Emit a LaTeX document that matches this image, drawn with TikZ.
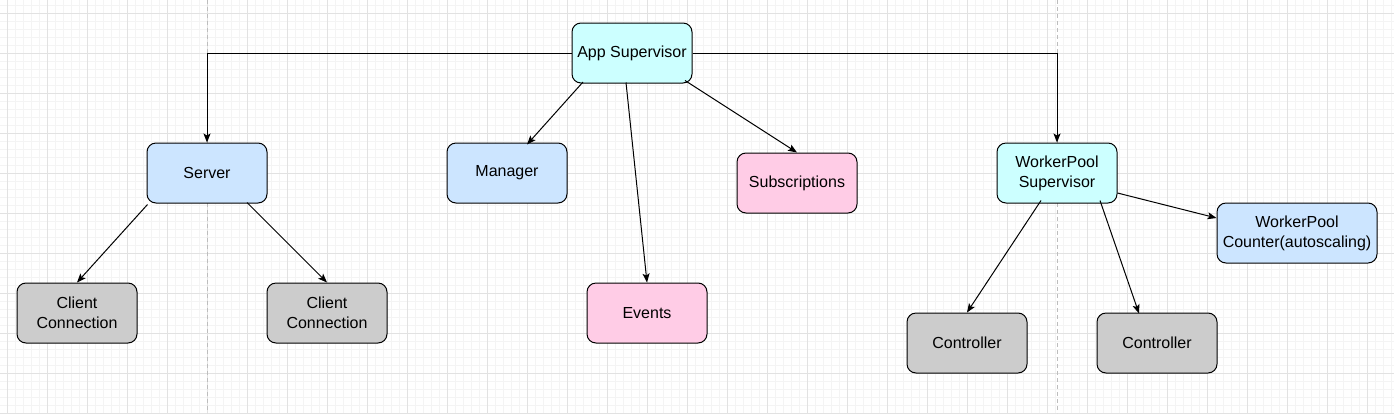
\documentclass[tikz,border=0pt]{standalone}
\usepackage{fontspec}
\setmainfont{Liberation Sans}
\usetikzlibrary{arrows.meta}
\definecolor{nblue}{HTML}{CCE5FF}
\definecolor{ncyan}{HTML}{CCFFFF}
\definecolor{npink}{HTML}{FFCCE6}
\definecolor{ngray}{HTML}{CCCCCC}
\definecolor{gminor}{HTML}{F4F4F4}
\definecolor{gmajor}{HTML}{E2E2E2}
\definecolor{gpage}{HTML}{BDBDBD}
\tikzset{
  box/.style={draw=black, line width=1pt, rounded corners=9pt, minimum width=120pt, minimum height=60pt, inner sep=0pt, align=center, font=\fontsize{16}{20}\selectfont},
  conn/.style={draw=black, line width=1pt, -{Stealth[length=9pt,width=7pt,inset=2pt]}},
}
\begin{document}
\begin{tikzpicture}[x=1pt,y=-1pt]
\useasboundingbox (0,0) rectangle (1394,413);
\fill[white] (0,0) rectangle (1394,413);
% grid
\foreach \i in {0,...,175} { \draw[gminor, line width=0.6pt] ({-1+8*\i},0) -- ({-1+8*\i},413); }
\foreach \i in {0,...,52} { \draw[gminor, line width=0.6pt] (0,{5+8*\i}) -- (1394,{5+8*\i}); }
\foreach \i in {0,...,34} { \draw[gmajor, line width=0.8pt] ({7+40*\i},0) -- ({7+40*\i},413); }
\foreach \i in {0,...,10} { \draw[gmajor, line width=0.8pt] (0,{13+40*\i}) -- (1394,{13+40*\i}); }
\draw[gpage, line width=0.8pt, dash pattern=on 4pt off 3pt] (207,0) -- (207,413);
\draw[gpage, line width=0.8pt, dash pattern=on 4pt off 3pt] (1057,0) -- (1057,413);
% nodes
\node[box, fill=ncyan] (app) at (632,53) {App Supervisor};
\node[box, fill=nblue] (server) at (207,173) {Server};
\node[box, fill=nblue] (manager) at (507,173) {Manager};
\node[box, fill=npink] (subs) at (797,183) {Subscriptions};
\node[box, fill=ncyan] (wps) at (1057,173) {WorkerPool\\Supervisor};
\node[box, fill=nblue, minimum width=160pt] (counter) at (1297,233) {WorkerPool\\Counter(autoscaling)};
\node[box, fill=ngray] (cc1) at (77,313) {Client\\Connection};
\node[box, fill=ngray] (cc2) at (327,313) {Client\\Connection};
\node[box, fill=npink] (events) at (647,313) {Events};
\node[box, fill=ngray] (ctl1) at (967,343) {Controller};
\node[box, fill=ngray] (ctl2) at (1157,343) {Controller};
% edges
\draw[conn] (app.west) -| (server.north);
\draw[conn] (app.east) -| (wps.north);
\draw[conn] ([xshift=-49pt,yshift=1.5pt]app.south) -- ([xshift=20pt,yshift=-2pt]manager.north);
\draw[conn] ([xshift=-6pt,yshift=1pt]app.south) -- (events.north);
\draw[conn] ([xshift=53pt,yshift=3pt]app.south) -- (subs.north);
\draw[conn] ([xshift=1pt,yshift=-1pt]server.south west) -- (cc1.north);
\draw[conn] ([xshift=40pt,yshift=1pt]server.south) -- (cc2.north);
\draw[conn] ([xshift=-16pt,yshift=3pt]wps.south) -- (ctl1.north);
\draw[conn] ([xshift=43pt,yshift=3pt]wps.south) -- ([xshift=-18pt,yshift=-1pt]ctl2.north);
\draw[conn] ([yshift=-20pt]wps.east) -- ([yshift=15pt]counter.west);
\end{tikzpicture}
\end{document}
